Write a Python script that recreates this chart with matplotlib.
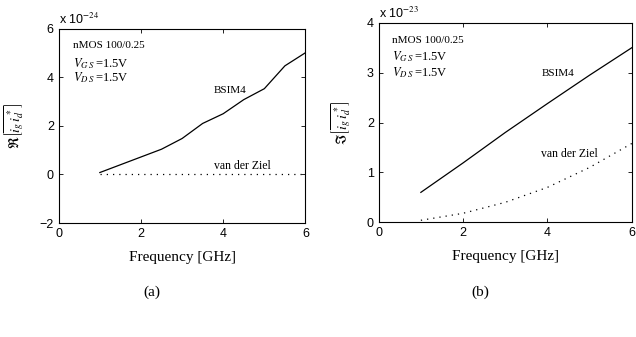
import matplotlib
matplotlib.use('Agg')
import matplotlib.pyplot as plt

# 频率 (GHz)
freq_a = [1.0, 1.5, 2.0, 2.5, 3.0, 3.5, 4.0, 4.5, 5.0, 5.5, 6.0]
# 实部 BSIM4 (x 1e-24)
re_bsim4 = [0.08, 0.40, 0.72, 1.04, 1.48, 2.10, 2.50, 3.08, 3.53, 4.47, 5.01]
# 实部 van der Ziel
re_vdz = [0.0, 0.0, 0.0, 0.0, 0.0, 0.0, 0.0, 0.0, 0.0, 0.0, 0.0]

freq_b = [1.0, 2.0, 3.0, 4.0, 5.0, 6.0]
# 虚部 BSIM4 (x 1e-23)
im_bsim4 = [0.60, 1.19, 1.80, 2.38, 2.95, 3.50]
# 虚部 van der Ziel
im_vdz = [0.04, 0.18, 0.40, 0.70, 1.10, 1.58]

plt.rcParams['mathtext.fontset'] = 'stix'
serif = 'Liberation Serif'
sans = 'Liberation Sans'

fig = plt.figure(figsize=(6.36, 3.37), dpi=100)
ax1 = fig.add_axes([0.0923, 0.338, 0.388, 0.577])
ax2 = fig.add_axes([0.5954, 0.3404, 0.398, 0.592])


def style_axes(ax):
    ax.tick_params(direction='in', top=True, right=True, length=3, width=0.6,
                   labelsize=9)
    for lab in ax.get_xticklabels() + ax.get_yticklabels():
        lab.set_family(sans)
    for sp in ax.spines.values():
        sp.set_linewidth(0.8)
    ax.set_xlabel('Frequency [GHz]', family=serif, fontsize=11, labelpad=8)


vgs = r'$V_{G\;S}\,$=1.5V'
vds = r'$V_{D\;S}\,$=1.5V'

# (a) 实部
ax1.plot(freq_a, re_bsim4, color='black', linewidth=0.9)
ax1.plot(freq_a, re_vdz, color='black', linewidth=0.9, linestyle=(0, (1, 4)))
ax1.set_xlim(0, 6)
ax1.set_ylim(-2, 6)
ax1.set_xticks([0, 2, 4, 6])
ax1.set_yticks([-2, 0, 2, 4, 6])
ax1.set_yticklabels(['\u22122', '0', '2', '4', '6'])
style_axes(ax1)
ax1.set_ylabel(r'$\Re\left[\overline{i_g\, i_d^*}\right]$', fontsize=10, labelpad=9)
ax1.text(0.34, 5.3, 'nMOS 100/0.25', family=serif, fontsize=8, va='center')
ax1.text(0.34, 4.56, vgs, family=serif, fontsize=9, va='center')
ax1.text(0.34, 3.99, vds, family=serif, fontsize=9, va='center')
ax1.text(4.17, 3.47, 'BSIM4', family=serif, fontsize=8, ha='center', va='center')
ax1.text(4.47, 0.36, 'van der Ziel', family=serif, fontsize=8.5, ha='center', va='center')
ax1.text(0.0, 1.01, r'x 10$^{-24}$', transform=ax1.transAxes, family=sans,
         fontsize=9, va='bottom')

# (b) 虚部
ax2.plot(freq_b, im_bsim4, color='black', linewidth=0.9)
ax2.plot(freq_b, im_vdz, color='black', linewidth=0.9, linestyle=(0, (1, 4)))
ax2.set_xlim(0, 6)
ax2.set_ylim(0, 4)
ax2.set_xticks([0, 2, 4, 6])
ax2.set_yticks([0, 1, 2, 3, 4])
style_axes(ax2)
ax2.set_ylabel(r'$\Im\left[\overline{i_g\, i_d^*}\right]$', fontsize=10, labelpad=9)
ax2.text(0.32, 3.65, 'nMOS 100/0.25', family=serif, fontsize=8, va='center')
ax2.text(0.32, 3.32, vgs, family=serif, fontsize=9, va='center')
ax2.text(0.32, 3.00, vds, family=serif, fontsize=9, va='center')
ax2.text(4.25, 2.98, 'BSIM4', family=serif, fontsize=8, ha='center', va='center')
ax2.text(4.52, 1.37, 'van der Ziel', family=serif, fontsize=8.5, ha='center', va='center')
ax2.text(0.0, 1.01, r'x 10$^{-23}$', transform=ax2.transAxes, family=sans,
         fontsize=9, va='bottom')

fig.text(152 / 636, 1 - 292 / 337, '(a)', family=serif, fontsize=11, ha='center', va='center')
fig.text(480 / 636, 1 - 292 / 337, '(b)', family=serif, fontsize=11, ha='center', va='center')

fig.savefig('out.png', dpi=100)
